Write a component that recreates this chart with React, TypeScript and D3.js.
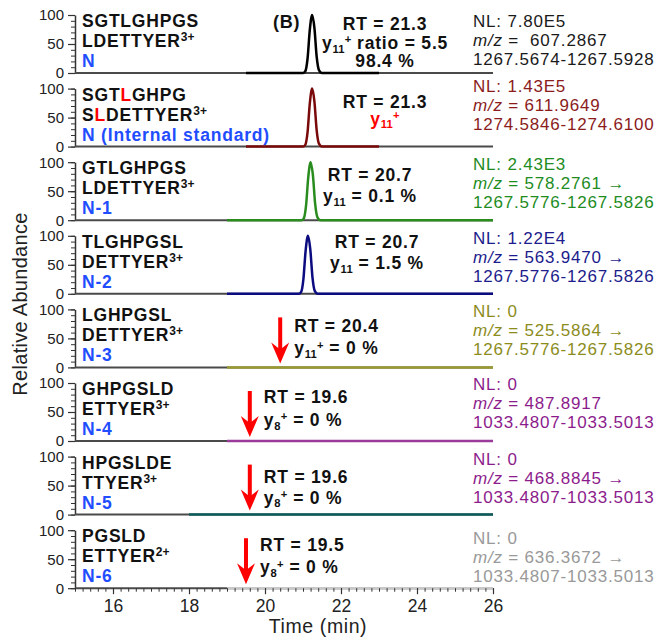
import { useEffect, useRef } from "react";
import * as d3 from "d3";

// peptide labels per panel
const peptideTop = ["SGTLGHPGS", "SGT[L]GHPG", "GTLGHPGS", "TLGHPGSL", "LGHPGSL", "GHPGSLD", "HPGSLDE", "PGSLD"];
const peptideBottom = ["LDETTYER", "S[L]DETTYER", "LDETTYER", "DETTYER", "DETTYER", "ETTYER", "TTYER", "ETTYER"];
const charges = ["3+", "3+", "3+", "3+", "3+", "3+", "3+", "2+"];
const variants = ["N", "N (Internal standard)", "N-1", "N-2", "N-3", "N-4", "N-5", "N-6"];

// retention time notes
const rtLabels = ["RT = 21.3", "RT = 21.3", "RT = 20.7", "RT = 20.7", "RT = 20.4", "RT = 19.6", "RT = 19.6", "RT = 19.5"];
const ionLabels = [
  "y_{11}^{+} ratio = 5.5",
  "[y_{11}^{+}]",
  "y_{11} = 0.1 %",
  "y_{11} = 1.5 %",
  "y_{11}^{+} = 0 %",
  "y_{8}^{+} = 0 %",
  "y_{8}^{+} = 0 %",
  "y_{8}^{+} = 0 %",
];
const extraLabels = ["98.4 %", "", "", "", "", "", "", ""];
const arrowRT = [null, null, null, null, 20.4, 19.6, 19.6, 19.5];

// scan info
const nlValues = ["7.80E5", "1.43E5", "2.43E3", "1.22E4", "0", "0", "0", "0"];
const mzValues = [" =  607.2867", " = 611.9649", " = 578.2761 →", " = 563.9470 →", " = 525.5864 →", " = 487.8917", " = 468.8845 →", " = 636.3672 →"];
const fragRanges = [
  "1267.5674-1267.5928",
  "1274.5846-1274.6100",
  "1267.5776-1267.5826",
  "1267.5776-1267.5826",
  "1267.5776-1267.5826",
  "1033.4807-1033.5013",
  "1033.4807-1033.5013",
  "1033.4807-1033.5013",
];

// chromatograms [time, relative abundance]
const traceN = [[19.5, 0], [21.0, 0], [21.06, 3], [21.12, 25], [21.18, 75], [21.24, 100], [21.3, 78], [21.36, 28], [21.42, 5], [21.5, 0], [23, 0]];
const traceIS = [[19.5, 0], [21.0, 0], [21.06, 3], [21.12, 25], [21.18, 75], [21.24, 100], [21.3, 78], [21.36, 28], [21.42, 5], [21.5, 0], [23, 0]];
const traceN1 = [[19, 0], [20.96, 0], [21.02, 3], [21.08, 25], [21.14, 75], [21.2, 100], [21.26, 78], [21.32, 28], [21.38, 5], [21.46, 0], [26, 0]];
const traceN2 = [[19, 0], [20.89, 0], [20.95, 3], [21.01, 25], [21.07, 75], [21.13, 100], [21.19, 78], [21.25, 28], [21.31, 5], [21.39, 0], [26, 0]];
const traceN3 = [[19, 0], [26, 0]];
const traceN4 = [[19, 0], [26, 0]];
const traceN5 = [[18, 0], [26, 0]];
const traceN6 = [[19, 0], [26, 0]];
const traces = [traceN, traceIS, traceN1, traceN2, traceN3, traceN4, traceN5, traceN6];

const traceColors = ["#000000", "#7a0a0a", "#2a8c1e", "#0c0c80", "#9a9a30", "#9a3a9a", "#0e5c5c", "#c8c8c8"];
const infoColors = ["#1a1a1a", "#8b1c1c", "#1e8c1e", "#1c1c8c", "#8c8c1c", "#8c1c8c", "#8c1c8c", "#999999"];

// layout offsets (px above each panel's zero line)
const rtTextX = [385, 385, 370, 377, null, null, null, null];
const rtLineY = [[-43, -24, -6], [-39, -22], [-39, -18], [-46, -25], [-35, -13], [-38, -15], [-32, -11], [-37, -15]];
const infoTopY = [-46, -55, -50, -50, -50, -51, -50, -44];

const FONT = "'Liberation Sans', Arial, Helvetica, sans-serif";

type Seg = { t: string; red: boolean; shift: number };
function parseRich(s: string): Seg[] {
  const segs: Seg[] = [];
  let red = false;
  let buf = "";
  let i = 0;
  const flush = () => {
    if (buf) segs.push({ t: buf, red, shift: 0 });
    buf = "";
  };
  while (i < s.length) {
    const c = s[i];
    if (c === "[") {
      flush();
      red = true;
      i++;
    } else if (c === "]") {
      flush();
      red = false;
      i++;
    } else if ((c === "_" || c === "^") && s[i + 1] === "{") {
      flush();
      const end = s.indexOf("}", i);
      segs.push({ t: s.slice(i + 2, end), red, shift: c === "_" ? 1 : -1 });
      i = end + 1;
    } else {
      buf += c;
      i++;
    }
  }
  flush();
  return segs;
}

function richText(sel: d3.Selection<SVGTextElement, unknown, null, undefined>, s: string, size: number) {
  let cur = 0;
  parseRich(s).forEach((seg) => {
    const target = seg.shift === 1 ? size * 0.22 : seg.shift === -1 ? -size * 0.32 : 0;
    const ts = sel.append("tspan").attr("dy", target - cur).text(seg.t);
    cur = target;
    if (seg.shift !== 0) ts.attr("font-size", size * 0.64).attr("letter-spacing", 0.2);
    if (seg.red) ts.attr("fill", "#ff0000");
  });
}

export default function App() {
  const svgRef = useRef<SVGSVGElement>(null);
  const W = 658;
  const H = 641;

  useEffect(() => {
    const svg = d3.select(svgRef.current);
    svg.selectAll("*").remove();
    svg.append("rect").attr("width", W).attr("height", H).attr("fill", "white");

    const x = d3.scaleLinear().domain([15, 26]).range([75, 493]);
    const band = d3.scaleBand<number>().domain(d3.range(8)).range([15, 588.2]).paddingInner(0.212);

    traces.forEach((tr, i) => {
      const top = band(i)!;
      const bottom = top + band.bandwidth();
      const y = d3.scaleLinear().domain([0, 100]).range([bottom, top]);
      const g = svg.append("g");

      // y axis minor + major
      const minor = g
        .append("g")
        .attr("transform", "translate(75,0)")
        .call(d3.axisLeft(y).tickValues(d3.range(0, 101, 10)).tickSize(4).tickSizeOuter(0).tickFormat(() => ""));
      minor.select(".domain").attr("stroke", "#333").attr("stroke-width", 1.5);
      minor.selectAll(".tick line").attr("stroke", "#333").attr("stroke-width", 1);
      const major = g
        .append("g")
        .attr("transform", "translate(75,0)")
        .call(d3.axisLeft(y).tickValues([0, 50, 100]).tickSize(7).tickSizeOuter(0).tickPadding(4));
      major.select(".domain").remove();
      major.selectAll(".tick line").attr("stroke", "#333").attr("stroke-width", 1.2);
      major.selectAll("text").attr("font-family", FONT).attr("font-size", 15).attr("fill", "#222");

      // zero line
      g.append("line")
        .attr("x1", x(15))
        .attr("x2", x(26))
        .attr("y1", y(0))
        .attr("y2", y(0))
        .attr("stroke", "#4a4a4a")
        .attr("stroke-width", 2);

      // trace
      const line = d3
        .line<number[]>()
        .x((d) => x(d[0]))
        .y((d) => y(d[1]))
        .curve(d3.curveMonotoneX);
      g.append("path")
        .datum(tr)
        .attr("d", line)
        .attr("fill", "none")
        .attr("stroke", traceColors[i])
        .attr("stroke-width", 2.5)
        .attr("stroke-linejoin", "round");

      const zero = y(0);

      // peptide label
      const pep = (dy: number, color: string) =>
        g
          .append("text")
          .attr("x", 82)
          .attr("y", zero + dy)
          .attr("font-family", FONT)
          .attr("font-weight", "bold")
          .attr("font-size", 17.5)
          .attr("letter-spacing", 0.8)
          .attr("fill", color);
      richText(pep(-46, "#111"), peptideTop[i], 17.5);
      const p2 = pep(-26, "#111");
      richText(p2, peptideBottom[i], 17.5);
      p2.append("tspan").attr("dy", -6).attr("font-size", 12).attr("letter-spacing", 0).text(charges[i]);
      pep(-6, "#1f4dff").text(variants[i]);

      // RT annotation
      const ar = arrowRT[i];
      const rtX = ar === null ? rtTextX[i]! : x(ar) + 14;
      const anchor = ar === null ? "middle" : "start";
      const lines = [rtLabels[i], ionLabels[i], extraLabels[i]].filter((d) => d);
      lines.forEach((txt, k) => {
        const t = g
          .append("text")
          .attr("x", rtX)
          .attr("y", zero + rtLineY[i][k])
          .attr("text-anchor", anchor)
          .attr("font-family", FONT)
          .attr("font-weight", "bold")
          .attr("font-size", 17.5)
          .attr("letter-spacing", 0.8)
          .attr("fill", "#111");
        richText(t, txt, 17.5);
      });

      if (ar !== null) {
        const ax = x(ar);
        const tipY = zero - 4;
        g.append("line")
          .attr("x1", ax)
          .attr("x2", ax)
          .attr("y1", zero - 50)
          .attr("y2", tipY - 12)
          .attr("stroke", "#ff0000")
          .attr("stroke-width", 4);
        g.append("path")
          .attr("d", `M${ax},${tipY} L${ax - 9},${tipY - 21} L${ax},${tipY - 14} L${ax + 9},${tipY - 21} Z`)
          .attr("fill", "#ff0000");
      }

      // scan info
      const info = (k: number) =>
        g
          .append("text")
          .attr("x", 473)
          .attr("y", zero + infoTopY[i] + k * 19)
          .attr("font-family", FONT)
          .attr("font-size", 17)
          .attr("letter-spacing", 0.8)
          .attr("fill", infoColors[i]);
      info(0).text(`NL: ${nlValues[i]}`);
      const mz = info(1);
      mz.append("tspan").attr("font-style", "italic").text("m/z");
      mz.append("tspan").style("white-space", "pre").text(mzValues[i]);
      info(2).text(fragRanges[i]);
    });

    // (B)
    svg
      .append("text")
      .attr("x", 273)
      .attr("y", 28)
      .attr("font-family", FONT)
      .attr("font-weight", "bold")
      .attr("font-size", 18)
      .attr("letter-spacing", 0.8)
      .attr("fill", "#111")
      .text("(B)");

    // x axis
    const xBase = band(7)! + band.bandwidth();
    const xMinor = svg
      .append("g")
      .attr("transform", `translate(0,${xBase})`)
      .call(d3.axisBottom(x).tickValues(d3.range(0, 56).map((k) => 15 + k * 0.2)).tickSize(3.5).tickSizeOuter(0).tickFormat(() => ""));
    xMinor.select(".domain").remove();
    xMinor.selectAll(".tick line").attr("stroke", "#333");
    const xMajor = svg
      .append("g")
      .attr("transform", `translate(0,${xBase})`)
      .call(d3.axisBottom(x).tickValues([16, 18, 20, 22, 24, 26]).tickSize(6).tickSizeOuter(0).tickPadding(5.5));
    xMajor.select(".domain").remove();
    xMajor.selectAll(".tick line").attr("stroke", "#333").attr("stroke-width", 1.2);
    xMajor.selectAll("text").attr("font-family", FONT).attr("font-size", 17.5).attr("fill", "#222");

    svg
      .append("text")
      .attr("x", 318)
      .attr("y", 633)
      .attr("text-anchor", "middle")
      .attr("font-family", FONT)
      .attr("font-size", 19.5)
      .attr("letter-spacing", 0.6)
      .attr("fill", "#222")
      .text("Time (min)");

    svg
      .append("text")
      .attr("transform", "translate(27,304) rotate(-90)")
      .attr("text-anchor", "middle")
      .attr("font-family", FONT)
      .attr("font-size", 20)
      .attr("letter-spacing", 0.3)
      .attr("fill", "#222")
      .text("Relative Abundance");
  }, []);

  return (
    <svg
      ref={svgRef}
      width={W}
      height={H}
      style={{ position: "absolute", left: 0, top: 0 }}
    ></svg>
  );
}
